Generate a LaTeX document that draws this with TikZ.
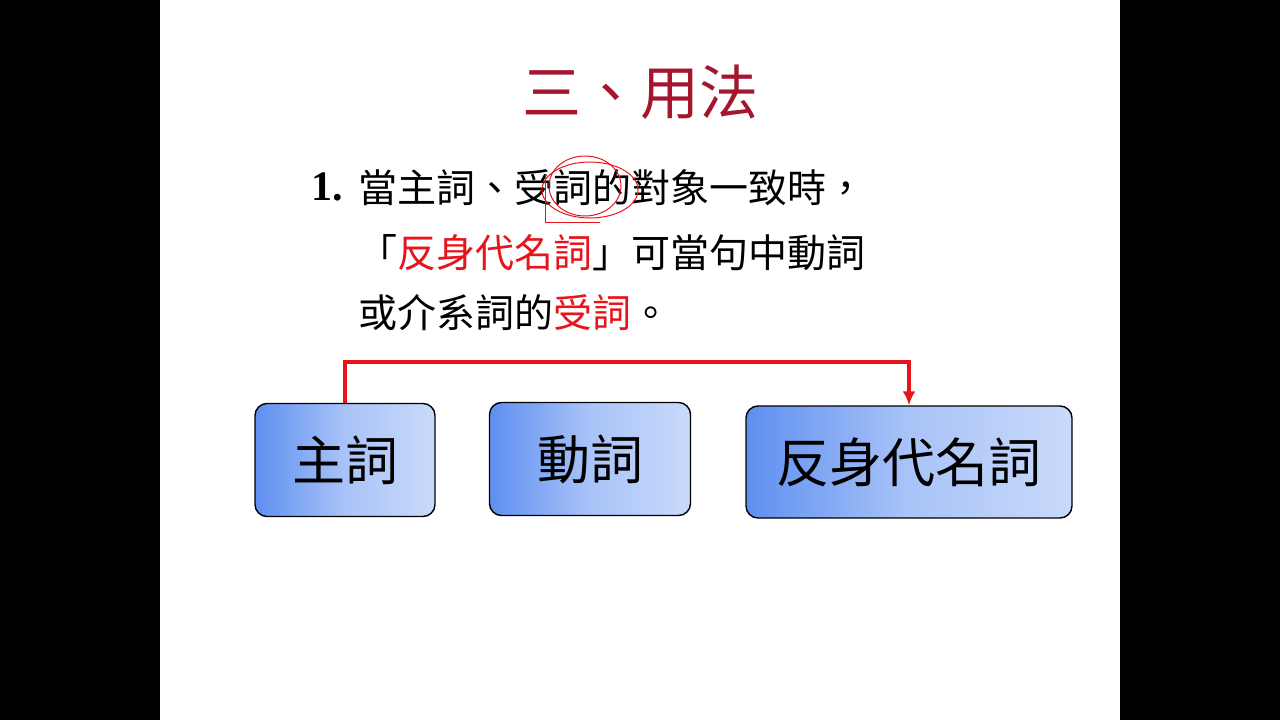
\documentclass[tikz,border=0pt]{standalone}
\usepackage{fontspec}
\usetikzlibrary{arrows.meta}
\newfontfamily\cjk{Noto Sans CJK TC}
\setmainfont{Liberation Serif}
\definecolor{ttl}{HTML}{A3162E}
\definecolor{rd}{HTML}{E8141C}
\definecolor{bl1}{HTML}{5E8FF0}
\definecolor{bl2}{HTML}{C9DAFB}
\begin{document}
\begin{tikzpicture}[x=1pt,y=-1pt,
  box/.style={draw=black,line width=1.4pt,rounded corners=12pt,left color=bl1,right color=bl2,middle color=bl2!70!bl1,font=\cjk\fontsize{53}{55}\selectfont},
  txt/.style={anchor=west,inner sep=0pt,font=\cjk\fontsize{39}{42}\selectfont}]
\useasboundingbox (0,0) rectangle (1280,720);
\fill[black] (0,0) rectangle (160,720);
\fill[black] (1120,0) rectangle (1280,720);
\node[font=\cjk\fontsize{59}{61}\selectfont,text=ttl] (title) at (640,92) {三、用法};
\node[anchor=west,inner sep=0pt,font=\bfseries\fontsize{42}{44}\selectfont] (num) at (311,187) {1.};
\node[txt] (l1) at (358,188) {當主詞、受詞的對象一致時，};
\node[txt] (l2) at (358,253) {「\textcolor{rd}{反身代名詞}」可當句中動詞};
\node[txt] (l3) at (358,313) {或介系詞的\textcolor{rd}{受詞}。};
\draw[rd,line width=1pt] (590,190) ellipse (48 and 28);
\draw[rd,line width=1pt] (545,175) -- (545,222) -- (600,222);
\draw[rd,line width=1pt] (585,186) ellipse (36 and 30);
\node[box,minimum width=180,minimum height=113] (a) at (345,460) {主詞};
\node[box,minimum width=201,minimum height=113] (b) at (590,459) {動詞};
\node[box,minimum width=326,minimum height=112] (c) at (909,462) {反身代名詞};
\draw[rd,line width=3.5pt,-{Latex[length=14,width=13]}] (a.north) -- ++(0,-41) -| (c.north);
\end{tikzpicture}
\end{document}
